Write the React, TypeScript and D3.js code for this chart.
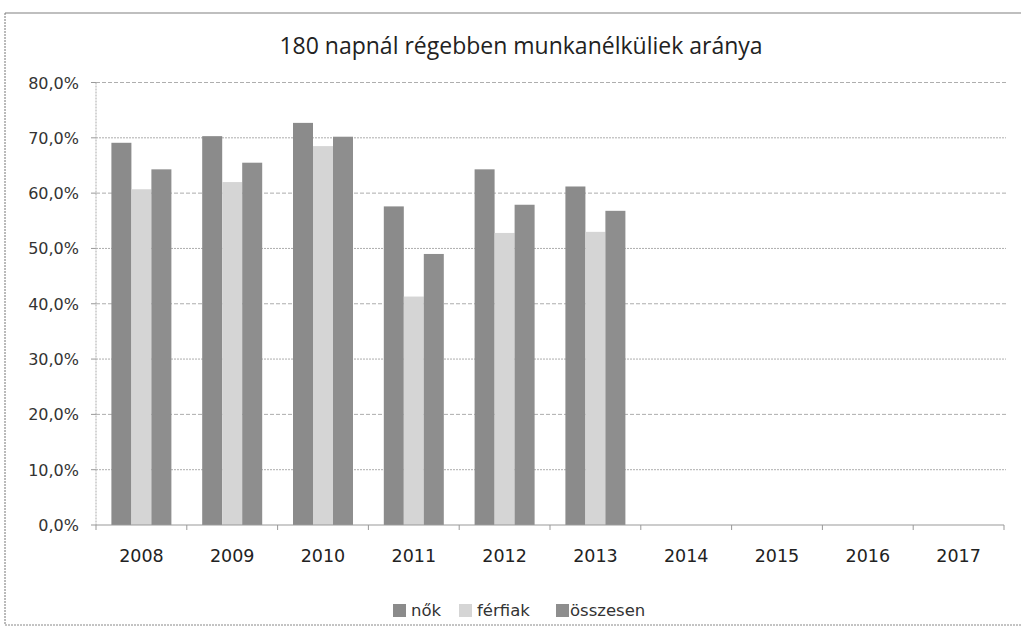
import React from "react";
import * as d3 from "d3";

const years = ["2008", "2009", "2010", "2011", "2012", "2013", "2014", "2015", "2016", "2017"];
const seriesNames = ["nők", "férfiak", "összesen"];
const nok = [69.1, 70.3, 72.7, 57.6, 64.3, 61.2, null, null, null, null];
const ferfiak = [60.7, 62.0, 68.5, 41.3, 52.8, 53.0, null, null, null, null];
const osszesen = [64.3, 65.5, 70.2, 49.0, 57.9, 56.8, null, null, null, null];
const yTicks = [0, 10, 20, 30, 40, 50, 60, 70, 80];
const title = "180 napnál régebben munkanélküliek aránya";

const colors = ["#8b8b8b", "#d5d5d5", "#8e8e8e"];
const values = [nok, ferfiak, osszesen];

export default function App() {
  const W = 1021, H = 632;
  const left = 96, right = 1004, top = 82.5, bottom = 525;
  const x = d3.scaleBand<string>().domain(years).range([left, right]).paddingInner(0).paddingOuter(0);
  const inner = d3.scaleBand<string>().domain(seriesNames).range([0, x.bandwidth()]).paddingInner(0).paddingOuter(0.77);
  const y = d3.scaleLinear().domain([0, 80]).range([bottom, top]);
  const titleFont = "'Open Sans', 'Liberation Sans', sans-serif";
  const axisFont = "'DejaVu Sans', sans-serif";
  const fmt = (v: number) => v.toFixed(1).replace(".", ",") + "%";

  const legendItems = [
    { name: seriesNames[0], sx: 393, tx: 411 },
    { name: seriesNames[1], sx: 459, tx: 477 },
    { name: seriesNames[2], sx: 556, tx: 570 },
  ];

  return (
    <svg width={W} height={H} style={{ position: "absolute", left: 0, top: 0, background: "#fff" }}>
      <rect x={0} y={0} width={W} height={H} fill="#fff" />
      {/* chart frame */}
      <line x1={5} y1={13} x2={1021} y2={13} stroke="#aaa" strokeWidth={1.5} />
      <line x1={5} y1={13} x2={5} y2={625} stroke="#777" strokeWidth={1} strokeDasharray="2,1" />
      <line x1={5} y1={625} x2={1021} y2={625} stroke="#888" strokeWidth={1} strokeDasharray="2,1" />

      <text x={521} y={54} textAnchor="middle" fontSize={23} fill="#222" fontFamily={titleFont}>{title}</text>

      {/* gridlines */}
      {yTicks.map((t) => (
        <g key={t}>
          {t > 0 && (
            <line x1={left} x2={right + 2} y1={y(t)} y2={y(t)} stroke="#9a9a9a" strokeWidth={1}
              strokeDasharray={t % 20 === 0 ? "4,2" : "2,1"} opacity={0.8} />
          )}
          <line x1={left - 5} x2={left} y1={y(t)} y2={y(t)} stroke="#999" />
          <text x={79} y={y(t) + 6} textAnchor="end" fontSize={16} fill="#333" fontFamily={axisFont}>{fmt(t)}</text>
        </g>
      ))}
      {/* y axis */}
      <line x1={left} x2={left} y1={top} y2={bottom} stroke="#aaa" strokeDasharray="2,1" />

      {/* bars */}
      {values.map((arr, si) =>
        arr.map((v, i) =>
          v == null ? null : (
            <rect key={si + "-" + i}
              x={(x(years[i]) as number) + (inner(seriesNames[si]) as number)}
              y={y(v)} width={inner.bandwidth()} height={y(0) - y(v)} fill={colors[si]} />
          )
        )
      )}

      {/* x axis */}
      <line x1={left} x2={right} y1={bottom} y2={bottom} stroke="#999" strokeWidth={1.2} />
      {years.map((yr) => (
        <line key={"t" + yr} x1={x(yr) as number} x2={x(yr) as number} y1={bottom} y2={bottom + 5} stroke="#999" />
      ))}
      <line x1={right} x2={right} y1={bottom} y2={bottom + 5} stroke="#999" />
      {years.map((yr) => (
        <text key={yr} x={(x(yr) as number) + x.bandwidth() / 2} y={562} textAnchor="middle" fontSize={17.5} fill="#222" fontFamily={axisFont}>{yr}</text>
      ))}

      {/* legend */}
      {legendItems.map((it, i) => (
        <g key={it.name}>
          <rect x={it.sx} y={604} width={13} height={13} fill={colors[i]} />
          <text x={it.tx} y={616} fontSize={16.5} fill="#333" fontFamily={axisFont}>{it.name}</text>
        </g>
      ))}
    </svg>
  );
}
